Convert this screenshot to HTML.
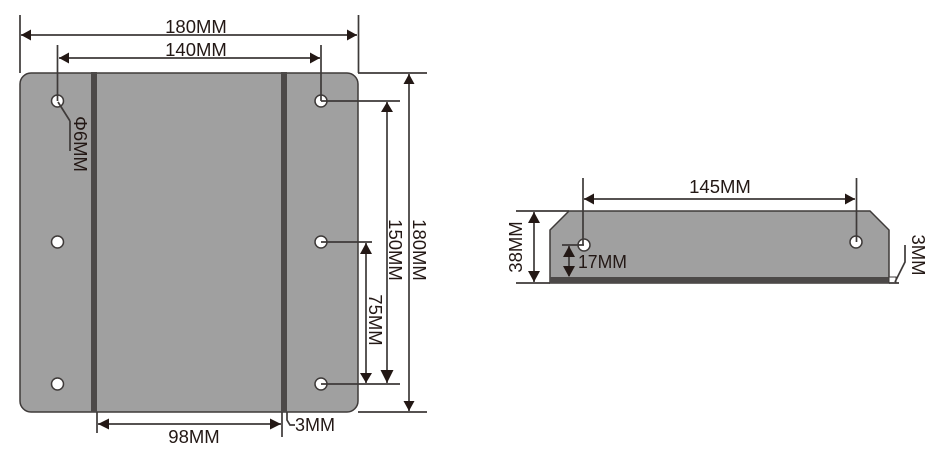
<!DOCTYPE html>
<html><head><meta charset="utf-8"><style>
html,body{margin:0;padding:0;background:#fff;width:940px;height:450px;overflow:hidden}
svg{display:block}
text{font-family:"Liberation Sans",sans-serif;font-size:18.5px;fill:#231815}
</style></head><body>
<svg width="940" height="450" viewBox="0 0 940 450" xmlns="http://www.w3.org/2000/svg">
<rect x="20" y="73" width="338" height="339" rx="11" fill="#a0a0a0" stroke="#3e3a39" stroke-width="1.5"/>
<rect x="91" y="72" width="6" height="340" fill="#4c4948"/>
<rect x="281" y="72" width="6" height="340" fill="#4c4948"/>
<polygon points="550,230 569,211 870,211 889,230 889,283 550,283" fill="#a0a0a0" stroke="#3e3a39" stroke-width="1.5"/>
<rect x="550" y="277" width="339" height="6" fill="#4c4948"/>
<rect x="889" y="277" width="7" height="6" fill="#fff" stroke="#3e3a39" stroke-width="1"/>
<g fill="#fff" stroke="#3e3a39" stroke-width="1.500">
<circle cx="57.500" cy="101" r="6"/><circle cx="57.500" cy="242" r="6"/><circle cx="57.500" cy="384" r="6"/>
<circle cx="321" cy="101" r="6"/><circle cx="321" cy="242" r="6"/><circle cx="321" cy="384" r="6"/>
<circle cx="584" cy="245" r="6"/><circle cx="856" cy="242" r="6"/>
</g>
<g stroke="#3e3a39" stroke-width="1.7" fill="none">
<path d="M20 15V73M358.500 15V73M57.500 45V101M321 45V101"/>
<path d="M358 73H427M358 412H427M321 101H400M321 384H400M321 242H372"/>
<path d="M97 412V433M282 412V437M287 412V420L290 425H295"/>
<path d="M516 211H569M516 283H550M583 178V245M856.500 178V242M562 245H584"/>
<path d="M70 121V151M70 121L58 102M905 245V262L895 282M889 283H899"/>
<path d="M21 35H357M59 58H320M409 74V411M387 102V383M366 243V383M98 424H281M584 199H855M534 212V282M569 246V276"/>
</g>
<g fill="#231815">
<polygon points="21,35 31,29.500 31,40.500"/><polygon points="357,35 347,29.500 347,40.500"/>
<polygon points="59,58 69,52.500 69,63.500"/><polygon points="320,58 310,52.500 310,63.500"/>
<polygon points="98,424 109,418.500 109,429.500"/><polygon points="281,424 270,418.500 270,429.500"/>
<polygon points="584,199 594,193.500 594,204.500"/><polygon points="855,199 845,193.500 845,204.500"/>
<polygon points="409,74 403.500,84 414.500,84"/><polygon points="409,411 403.500,401 414.500,401"/>
<polygon points="387,102 381,112 393,112"/><polygon points="387,383 380.500,370 393.500,370"/>
<polygon points="366,243 360,254 372,254"/><polygon points="366,383 360,373 372,373"/>
<polygon points="534,212 528,223 540,223"/><polygon points="534,282 528,271 540,271"/>
<polygon points="569,246 563,257 575,257"/><polygon points="569,277 563,266 575,266"/>
</g>
<text x="196" y="33" text-anchor="middle">180MM</text>
<text x="196" y="56" text-anchor="middle">140MM</text>
<text x="194" y="443" text-anchor="middle">98MM</text>
<text x="295" y="431" textLength="40" lengthAdjust="spacingAndGlyphs">3MM</text>
<text x="720" y="193" text-anchor="middle">145MM</text>
<text x="578" y="268" textLength="49" lengthAdjust="spacingAndGlyphs">17MM</text>
<text transform="translate(74,144) rotate(90)" text-anchor="middle">Φ6MM</text>
<text transform="translate(413,250) rotate(90)" text-anchor="middle">180MM</text>
<text transform="translate(389,250) rotate(90)" text-anchor="middle">150MM</text>
<text transform="translate(369,320) rotate(90)" text-anchor="middle">75MM</text>
<text transform="translate(522,247) rotate(-90)" text-anchor="middle">38MM</text>
<text transform="translate(912,255) rotate(90)" text-anchor="middle">3MM</text>
</svg>
</body></html>
